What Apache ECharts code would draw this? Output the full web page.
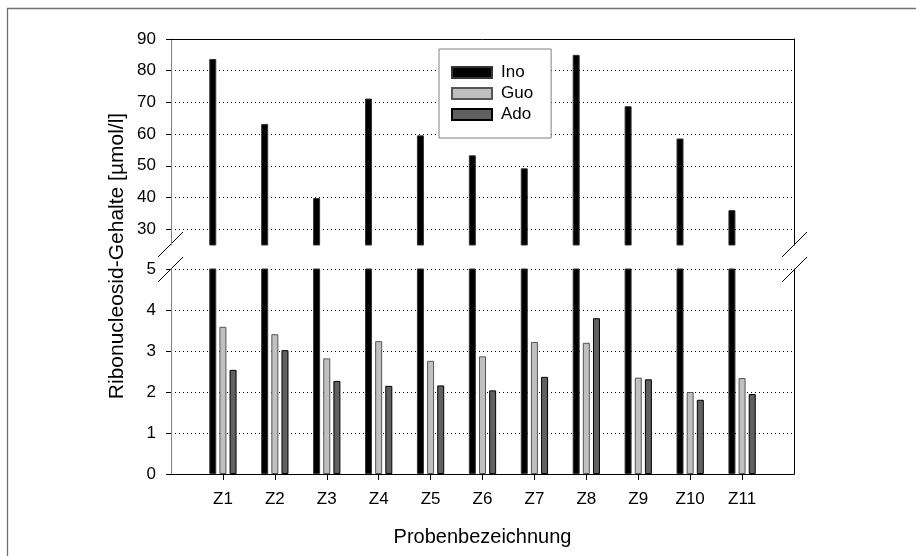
<!DOCTYPE html>
<html>
<head>
<meta charset="utf-8">
<script src="https://cdn.jsdelivr.net/npm/echarts@6/dist/echarts.min.js"></script>
<style>
    html, body { margin: 0; padding: 0; background: #fff; }
    #chart { width: 916px; height: 556px; }
</style>
</head>
<body>
<div id="chart"></div>
<script>
const categories = ['Z1', 'Z2', 'Z3', 'Z4', 'Z5', 'Z6', 'Z7', 'Z8', 'Z9', 'Z10', 'Z11'];
const ino = [83.7, 63.2, 39.8, 71.2, 59.6, 53.3, 49.2, 85.0, 68.8, 58.6, 36.0];
const guo = [3.59, 3.41, 2.82, 3.24, 2.76, 2.87, 3.22, 3.20, 2.35, 2.00, 2.34];
const ado = [2.54, 3.02, 2.27, 2.15, 2.16, 2.04, 2.37, 3.80, 2.31, 1.81, 1.95];
const lowerTicks = [0, 1, 2, 3, 4, 5];
const upperTicks = [30, 40, 50, 60, 70, 80, 90];

// one empty slot on each side, so the groups sit on 1..11 of a 0..12 axis
let pad = arr => ['-', ...arr, '-'];
let padCats = ['', ...categories, ''];
let font = 'Liberation Sans, Arial, sans-serif';

let styles = {
    Ino: {color: '#000', borderColor: '#333', borderWidth: 1},
    Guo: {color: '#c0c0c0', borderColor: '#555', borderWidth: 1},
    Ado: {color: '#606060', borderColor: '#000', borderWidth: 1}
};

function barSeries(name, data, axisIndex) {
    return {
        name: name,
        type: 'bar',
        xAxisIndex: axisIndex,
        yAxisIndex: axisIndex,
        data: pad(data),
        barWidth: 7,
        barGap: '45%',
        clip: true,
        itemStyle: styles[name]
    };
}

let dotted = {show: true, lineStyle: {color: '#000', width: 1, type: [1, 3]}};

let chartDom = document.getElementById('chart');
let myChart = echarts.init(chartDom, null, {renderer: 'canvas'});
let option = {
    animation: false,
    backgroundColor: '#fff',
    textStyle: {fontFamily: font},
    grid: [
        {left: 171, width: 623, top: 269, height: 205},
        {left: 171, width: 623, top: 39, height: 206}
    ],
    legend: {
        data: ['Ino', 'Guo', 'Ado'],
        orient: 'vertical',
        left: 439,
        top: 49,
        padding: [15, 18, 15, 12],
        itemWidth: 40,
        itemHeight: 11,
        itemGap: 4,
        icon: 'rect',
        selectedMode: false,
        backgroundColor: '#fff',
        borderColor: '#808080',
        borderWidth: 1,
        z: 10,
        textStyle: {fontSize: 17, color: '#000', fontFamily: font, padding: [0, 0, 0, 4]}
    },
    xAxis: [
        {
            gridIndex: 0,
            type: 'category',
            data: padCats,
            boundaryGap: false,
            position: 'bottom',
            axisLine: {onZero: false, lineStyle: {color: '#000', width: 1}},
            axisTick: {
                show: true,
                length: 6,
                interval: function (index) {
                    return index > 0 && index < padCats.length - 1;
                },
                lineStyle: {color: '#000'}
            },
            axisLabel: {interval: 0, margin: 17, fontSize: 17, color: '#000', fontFamily: font},
            name: 'Probenbezeichnung',
            nameLocation: 'middle',
            nameGap: 53,
            nameTextStyle: {fontSize: 20, color: '#000', fontFamily: font}
        },
        {
            gridIndex: 1,
            type: 'category',
            data: padCats,
            boundaryGap: false,
            position: 'top',
            axisLine: {onZero: false, lineStyle: {color: '#000', width: 1}},
            axisTick: {show: false},
            axisLabel: {show: false}
        }
    ],
    yAxis: [
        {
            gridIndex: 0,
            type: 'value',
            min: 0,
            max: 5,
            interval: 1,
            position: 'left',
            axisLine: {show: true, lineStyle: {color: '#808080', width: 1}},
            axisTick: {show: true, length: 5, lineStyle: {color: '#000'}},
            axisLabel: {margin: 15, fontSize: 17, color: '#000', fontFamily: font, customValues: lowerTicks},
            splitLine: dotted
        },
        {
            gridIndex: 1,
            type: 'value',
            min: 25,
            max: 90,
            splitNumber: 7,
            minInterval: 10,
            maxInterval: 10,
            position: 'left',
            axisLine: {show: true, lineStyle: {color: '#808080', width: 1}},
            axisTick: {show: true, length: 5, lineStyle: {color: '#000'}, customValues: upperTicks},
            axisLabel: {margin: 15, fontSize: 17, color: '#000', fontFamily: font, customValues: upperTicks},
            splitLine: dotted
        },
        {
            gridIndex: 0,
            type: 'value',
            min: 0,
            max: 5,
            position: 'right',
            axisLine: {show: true, lineStyle: {color: '#000', width: 1}},
            axisTick: {show: false},
            axisLabel: {show: false},
            splitLine: {show: false}
        },
        {
            gridIndex: 1,
            type: 'value',
            min: 25,
            max: 90,
            position: 'right',
            axisLine: {show: true, lineStyle: {color: '#000', width: 1}},
            axisTick: {show: false},
            axisLabel: {show: false},
            splitLine: {show: false}
        }
    ],
    graphic: [
        // outer frame, running off the right and bottom edges
        {type: 'rect', shape: {x: 7.5, y: 8.5, width: 1000, height: 1000},
            style: {fill: 'none', stroke: '#707070', lineWidth: 1.3}},
        // axis break marks
        {type: 'line', shape: {x1: 158, y1: 257, x2: 183, y2: 232}, style: {stroke: '#000', lineWidth: 1}},
        {type: 'line', shape: {x1: 158, y1: 282, x2: 183, y2: 257}, style: {stroke: '#000', lineWidth: 1}},
        {type: 'line', shape: {x1: 782, y1: 257, x2: 807, y2: 232}, style: {stroke: '#000', lineWidth: 1}},
        {type: 'line', shape: {x1: 782, y1: 282, x2: 807, y2: 257}, style: {stroke: '#000', lineWidth: 1}},
        {
            type: 'text',
            x: 117,
            y: 256,
            rotation: Math.PI / 2,
            style: {
                text: 'Ribonucleosid-Gehalte [µmol/l]',
                fontSize: 21,
                fontFamily: font,
                fill: '#000',
                align: 'center',
                verticalAlign: 'middle'
            }
        }
    ],
    series: [
        barSeries('Ino', ino, 0),
        barSeries('Guo', guo, 0),
        barSeries('Ado', ado, 0),
        barSeries('Ino', ino, 1),
        barSeries('Guo', guo, 1),
        barSeries('Ado', ado, 1)
    ]
};
option && myChart.setOption(option);
</script>
</body>
</html>
